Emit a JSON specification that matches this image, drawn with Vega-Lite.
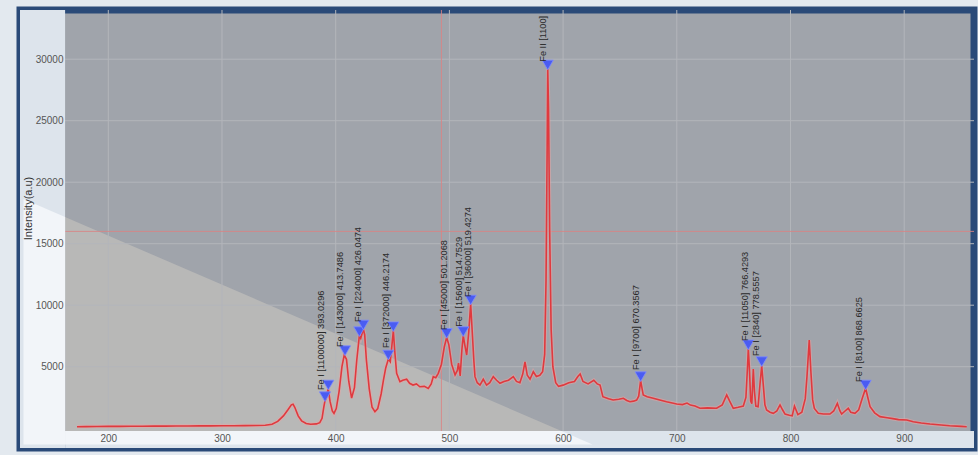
{
  "$schema": "https://vega.github.io/schema/vega-lite/v6.json",
  "width": 954,
  "height": 438,
  "autosize": {"type": "none"},
  "padding": {"left": 20, "top": 10, "right": 4, "bottom": 7},
  "background": "#e3e9ef",
  "config": {
    "view": {"stroke": "#2a4a78", "strokeWidth": 7, "fill": "#a0a4ab"}
  },
  "datasets": {
    "spec": [
      {"wl": 172.5, "v": 120}, {"wl": 180, "v": 130}, {"wl": 190, "v": 140}, {"wl": 200, "v": 150},
      {"wl": 210, "v": 150}, {"wl": 220, "v": 160}, {"wl": 230, "v": 160}, {"wl": 240, "v": 170},
      {"wl": 250, "v": 170}, {"wl": 260, "v": 180}, {"wl": 270, "v": 180}, {"wl": 280, "v": 190},
      {"wl": 290, "v": 190}, {"wl": 300, "v": 200}, {"wl": 310, "v": 200}, {"wl": 320, "v": 210},
      {"wl": 330, "v": 220}, {"wl": 338, "v": 240}, {"wl": 344, "v": 320}, {"wl": 349, "v": 550},
      {"wl": 354, "v": 1000}, {"wl": 358, "v": 1500}, {"wl": 361, "v": 1900}, {"wl": 362.5, "v": 1950},
      {"wl": 364, "v": 1700}, {"wl": 367, "v": 1000}, {"wl": 370, "v": 600}, {"wl": 374, "v": 380},
      {"wl": 378, "v": 320}, {"wl": 383, "v": 350}, {"wl": 386, "v": 450}, {"wl": 388, "v": 800},
      {"wl": 389.5, "v": 1700}, {"wl": 390.5, "v": 2200}, {"wl": 391.5, "v": 2400}, {"wl": 392.5, "v": 2900},
      {"wl": 393.5, "v": 3180}, {"wl": 395, "v": 2200}, {"wl": 397, "v": 1400}, {"wl": 398.5, "v": 1200},
      {"wl": 400.5, "v": 1600}, {"wl": 403, "v": 3000}, {"wl": 405.5, "v": 5000}, {"wl": 407.5, "v": 5950},
      {"wl": 409.5, "v": 5600}, {"wl": 411.5, "v": 3800}, {"wl": 414, "v": 2450}, {"wl": 416.5, "v": 3300},
      {"wl": 418.5, "v": 5500}, {"wl": 420.8, "v": 7520}, {"wl": 422, "v": 7300}, {"wl": 424.3, "v": 8060},
      {"wl": 425.5, "v": 7600}, {"wl": 427, "v": 5540}, {"wl": 429.5, "v": 3200}, {"wl": 432, "v": 1700},
      {"wl": 434.5, "v": 1340}, {"wl": 437, "v": 1600}, {"wl": 440, "v": 2800}, {"wl": 442, "v": 3900},
      {"wl": 444, "v": 4900}, {"wl": 446.3, "v": 5620}, {"wl": 448, "v": 5400}, {"wl": 450.7, "v": 7920},
      {"wl": 452, "v": 6200}, {"wl": 453.6, "v": 4460}, {"wl": 456.5, "v": 3780}, {"wl": 459, "v": 3900},
      {"wl": 462.4, "v": 3980}, {"wl": 465, "v": 3650}, {"wl": 468, "v": 3510}, {"wl": 471, "v": 3600},
      {"wl": 474, "v": 3370}, {"wl": 478, "v": 3400}, {"wl": 481.4, "v": 3240}, {"wl": 484, "v": 3600},
      {"wl": 485.8, "v": 4190}, {"wl": 488, "v": 4100}, {"wl": 490.2, "v": 4460}, {"wl": 493, "v": 5200},
      {"wl": 495.5, "v": 6600}, {"wl": 497.6, "v": 7380}, {"wl": 499.5, "v": 6800}, {"wl": 502, "v": 5200},
      {"wl": 505, "v": 4330}, {"wl": 507, "v": 4700}, {"wl": 508, "v": 5300}, {"wl": 509.5, "v": 4250},
      {"wl": 511, "v": 6400}, {"wl": 512.2, "v": 7520}, {"wl": 513.5, "v": 6800}, {"wl": 515.2, "v": 5950},
      {"wl": 517, "v": 7800}, {"wl": 518.7, "v": 10090}, {"wl": 520, "v": 8000}, {"wl": 521.5, "v": 5500},
      {"wl": 522.5, "v": 4190}, {"wl": 524.5, "v": 3700}, {"wl": 526.9, "v": 3510}, {"wl": 529.8, "v": 3980},
      {"wl": 532.7, "v": 3500}, {"wl": 535.5, "v": 3700}, {"wl": 538.6, "v": 4190}, {"wl": 541.5, "v": 3900},
      {"wl": 544.5, "v": 3650}, {"wl": 548, "v": 3800}, {"wl": 552, "v": 3900}, {"wl": 556.2, "v": 4190},
      {"wl": 559, "v": 3800}, {"wl": 562, "v": 3700}, {"wl": 564.5, "v": 4400}, {"wl": 566.5, "v": 5400},
      {"wl": 568.5, "v": 4300}, {"wl": 570.9, "v": 3980}, {"wl": 573.8, "v": 4590}, {"wl": 576.5, "v": 4200},
      {"wl": 579.5, "v": 4300}, {"wl": 582, "v": 4600}, {"wl": 583.8, "v": 6000}, {"wl": 585, "v": 12000},
      {"wl": 586, "v": 23000}, {"wl": 586.5, "v": 29200}, {"wl": 587.2, "v": 26000}, {"wl": 588.2, "v": 16000},
      {"wl": 589.5, "v": 8000}, {"wl": 591, "v": 5000}, {"wl": 593.5, "v": 3700}, {"wl": 596, "v": 3400},
      {"wl": 600, "v": 3500}, {"wl": 605, "v": 3700}, {"wl": 610, "v": 3800}, {"wl": 613, "v": 4200},
      {"wl": 615, "v": 4400}, {"wl": 617.5, "v": 3800}, {"wl": 622, "v": 3600}, {"wl": 627, "v": 3900},
      {"wl": 630, "v": 3600}, {"wl": 632.5, "v": 3510}, {"wl": 635, "v": 2560}, {"wl": 640, "v": 2400},
      {"wl": 644, "v": 2290}, {"wl": 649, "v": 2350}, {"wl": 653, "v": 2430}, {"wl": 656, "v": 2250},
      {"wl": 658.8, "v": 2150}, {"wl": 662, "v": 2200}, {"wl": 664.7, "v": 2290}, {"wl": 666.5, "v": 2600},
      {"wl": 668.2, "v": 3860}, {"wl": 669.5, "v": 3200}, {"wl": 670.5, "v": 2700}, {"wl": 674, "v": 2550},
      {"wl": 679.3, "v": 2430}, {"wl": 685, "v": 2300}, {"wl": 691, "v": 2150}, {"wl": 696, "v": 2050},
      {"wl": 699.9, "v": 1970}, {"wl": 705, "v": 1920}, {"wl": 709, "v": 2040}, {"wl": 712, "v": 1880},
      {"wl": 716, "v": 1800}, {"wl": 720.4, "v": 1620}, {"wl": 727, "v": 1650}, {"wl": 735, "v": 1620},
      {"wl": 740, "v": 1900}, {"wl": 743.9, "v": 2700}, {"wl": 746.5, "v": 2200}, {"wl": 749.7, "v": 1620},
      {"wl": 754, "v": 1700}, {"wl": 758.5, "v": 1800}, {"wl": 760.8, "v": 2500}, {"wl": 762.2, "v": 5000},
      {"wl": 762.9, "v": 6440}, {"wl": 763.8, "v": 5000}, {"wl": 765, "v": 2200}, {"wl": 766, "v": 2000},
      {"wl": 767.3, "v": 4800}, {"wl": 768.3, "v": 3000}, {"wl": 769.5, "v": 1800}, {"wl": 771.5, "v": 1750},
      {"wl": 773.2, "v": 3600}, {"wl": 774.7, "v": 5080}, {"wl": 776, "v": 3600}, {"wl": 777.5, "v": 1900},
      {"wl": 779, "v": 1480}, {"wl": 782, "v": 1300}, {"wl": 784.9, "v": 1210}, {"wl": 788, "v": 1400},
      {"wl": 790.8, "v": 1890}, {"wl": 793, "v": 1500}, {"wl": 795.2, "v": 1150}, {"wl": 799, "v": 1050},
      {"wl": 801.5, "v": 1000}, {"wl": 803.5, "v": 1800}, {"wl": 806.5, "v": 1100}, {"wl": 810, "v": 1300},
      {"wl": 813, "v": 2400}, {"wl": 814.5, "v": 4200}, {"wl": 816.5, "v": 7170}, {"wl": 818, "v": 4500},
      {"wl": 819.5, "v": 2300}, {"wl": 821, "v": 1600}, {"wl": 824.4, "v": 1210}, {"wl": 829, "v": 1150},
      {"wl": 834.7, "v": 1150}, {"wl": 838, "v": 1400}, {"wl": 841.2, "v": 2020}, {"wl": 843.5, "v": 1400},
      {"wl": 845, "v": 1150}, {"wl": 848, "v": 1400}, {"wl": 850.8, "v": 1620}, {"wl": 853, "v": 1300},
      {"wl": 856.7, "v": 1210}, {"wl": 860, "v": 1500}, {"wl": 863, "v": 2400}, {"wl": 866.1, "v": 3250},
      {"wl": 868, "v": 2500}, {"wl": 870, "v": 1750}, {"wl": 874, "v": 1250}, {"wl": 878.7, "v": 940},
      {"wl": 885, "v": 850}, {"wl": 890, "v": 780}, {"wl": 895, "v": 700}, {"wl": 902.2, "v": 670},
      {"wl": 908, "v": 520}, {"wl": 915, "v": 420}, {"wl": 922.7, "v": 340}, {"wl": 930, "v": 280},
      {"wl": 940, "v": 200}, {"wl": 950, "v": 150}, {"wl": 955, "v": 120}
    ],
    "markers": [
      {"wl": 390.6, "v": 2560}, {"wl": 393.5, "v": 3510}, {"wl": 408.2, "v": 6300},
      {"wl": 420.8, "v": 7850}, {"wl": 424.3, "v": 8390}, {"wl": 446.3, "v": 5950},
      {"wl": 450.7, "v": 8250}, {"wl": 497.6, "v": 7710}, {"wl": 512.2, "v": 7850},
      {"wl": 518.7, "v": 10420}, {"wl": 586.5, "v": 29530}, {"wl": 668.2, "v": 4190},
      {"wl": 762.9, "v": 6770}, {"wl": 774.7, "v": 5410}, {"wl": 866.1, "v": 3510}
    ],
    "labels": [
      {"wl": 387.5, "v": 3100, "label": "Fe I [1100000] 393.0296"},
      {"wl": 404.2, "v": 6600, "label": "Fe I [143000] 413.7486"},
      {"wl": 419.2, "v": 8630, "label": "Fe I [224000] 426.0474"},
      {"wl": 444.2, "v": 6520, "label": "Fe I [372000] 446.2174"},
      {"wl": 495.3, "v": 7980, "label": "Fe I [45000] 501.2068"},
      {"wl": 508.4, "v": 8240, "label": "Fe I [15600] 514.7529"},
      {"wl": 516.0, "v": 10670, "label": "Fe I [36000] 519.4274"},
      {"wl": 582.3, "v": 29800, "label": "Fe II [1100]"},
      {"wl": 664.1, "v": 4730, "label": "Fe I [9700] 670.3567"},
      {"wl": 760.4, "v": 7090, "label": "Fe I [11050] 766.4293"},
      {"wl": 769.6, "v": 5870, "label": "Fe I [2840] 778.5557"},
      {"wl": 860.2, "v": 3760, "label": "Fe I [8100] 868.6625"}
    ],
    "strips": [
      {"wl": 122.34, "wl2": 162, "v": -1610, "v2": 34000},
      {"wl": 162, "wl2": 961.4, "v": -1610, "v2": -230}
    ],
    "glare": [
      {"part": "left", "wl": 125.4, "v": 18626, "v2": -1325},
      {"part": "left", "wl": 162, "v": 17171, "v2": -1325},
      {"part": "bottom", "wl": 162, "v": -230, "v2": -1325},
      {"part": "bottom", "wl": 598.6, "v": -230, "v2": -1325},
      {"part": "bottom", "wl": 625.9, "v": -1325, "v2": -1325}
    ],
    "lighttri": [{"wl": 162, "v": 17171, "v2": -230}, {"wl": 598.6, "v": -230, "v2": -230}],
    "xticks": [{"wl": 200}, {"wl": 300}, {"wl": 400}, {"wl": 500}, {"wl": 600}, {"wl": 700}, {"wl": 800}, {"wl": 900}],
    "yticks": [{"v": 5000}, {"v": 10000}, {"v": 15000}, {"v": 20000}, {"v": 25000}, {"v": 30000}],
    "crossx": [{"wl": 493}],
    "crossy": [{"v": 16000}]
  },
  "layer": [
    {
      "data": {"name": "lighttri"},
      "mark": {"type": "area", "color": "#d0ccc3", "opacity": 0.5},
      "encoding": {
        "x": {"field": "wl", "type": "quantitative", "scale": {"domain": [122.34, 961.4], "nice": false, "zero": false}},
        "y": {"field": "v", "type": "quantitative", "scale": {"domain": [-1610, 34000], "nice": false, "zero": false}},
        "y2": {"field": "v2"}
      }
    },
    {
      "data": {"name": "xticks"},
      "mark": {"type": "rule", "color": "#b3b6bb", "strokeWidth": 1},
      "encoding": {
        "x": {"field": "wl", "type": "quantitative", "scale": {"domain": [122.34, 961.4], "nice": false, "zero": false}}
      }
    },
    {
      "data": {"name": "yticks"},
      "mark": {"type": "rule", "color": "#b3b6bb", "strokeWidth": 1},
      "encoding": {
        "y": {"field": "v", "type": "quantitative", "scale": {"domain": [-1610, 34000], "nice": false, "zero": false}}
      }
    },
    {
      "data": {"name": "crossx"},
      "mark": {"type": "rule", "color": "#d98484", "strokeWidth": 1, "opacity": 0.85},
      "encoding": {
        "x": {"field": "wl", "type": "quantitative", "scale": {"domain": [122.34, 961.4], "nice": false, "zero": false}}
      }
    },
    {
      "data": {"name": "crossy"},
      "mark": {"type": "rule", "color": "#d98484", "strokeWidth": 1, "opacity": 0.85},
      "encoding": {
        "y": {"field": "v", "type": "quantitative", "scale": {"domain": [-1610, 34000], "nice": false, "zero": false}}
      }
    },
    {
      "data": {"name": "strips"},
      "mark": {"type": "rect", "color": "#dde4ec", "opacity": 1},
      "encoding": {
        "x": {"field": "wl", "type": "quantitative", "scale": {"domain": [122.34, 961.4], "nice": false, "zero": false}},
        "x2": {"field": "wl2"},
        "y": {"field": "v", "type": "quantitative", "scale": {"domain": [-1610, 34000], "nice": false, "zero": false}},
        "y2": {"field": "v2"}
      }
    },
    {
      "data": {"name": "glare"},
      "mark": {"type": "area", "color": "#f2f5f9", "opacity": 1},
      "encoding": {
        "x": {"field": "wl", "type": "quantitative", "scale": {"domain": [122.34, 961.4], "nice": false, "zero": false}},
        "y": {"field": "v", "type": "quantitative", "scale": {"domain": [-1610, 34000], "nice": false, "zero": false}},
        "y2": {"field": "v2"},
        "detail": {"field": "part"}
      }
    },
    {
      "data": {"name": "spec"},
      "mark": {"type": "line", "color": "#eaa3a3", "strokeWidth": 3.8, "opacity": 0.5},
      "encoding": {
        "x": {"field": "wl", "type": "quantitative", "scale": {"domain": [122.34, 961.4], "nice": false, "zero": false}},
        "y": {"field": "v", "type": "quantitative", "scale": {"domain": [-1610, 34000], "nice": false, "zero": false}}
      }
    },
    {
      "data": {"name": "spec"},
      "mark": {"type": "line", "color": "#e0393e", "strokeWidth": 1.6},
      "encoding": {
        "x": {
          "field": "wl", "type": "quantitative",
          "scale": {"domain": [122.34, 961.4], "nice": false, "zero": false},
          "axis": {
            "values": [200, 300, 400, 500, 600, 700, 800, 900],
            "offset": -17, "domain": false, "ticks": false, "tickSize": 0, "grid": false,
            "labelFont": "Liberation Sans", "labelFontSize": 10, "labelColor": "#555555",
            "labelPadding": 2, "labelFlush": false, "title": null, "zindex": 1
          }
        },
        "y": {
          "field": "v", "type": "quantitative",
          "scale": {"domain": [-1610, 34000], "nice": false, "zero": false},
          "axis": {
            "values": [5000, 10000, 15000, 20000, 25000, 30000], "format": "d",
            "offset": -45, "domain": false, "ticks": false, "tickSize": 0, "grid": false,
            "labelFont": "Liberation Sans", "labelFontSize": 10, "labelColor": "#555555",
            "labelPadding": 2, "title": "Intensity(a.u)", "titleFont": "Liberation Sans",
            "titleFontSize": 11, "titleFontWeight": "normal", "titleColor": "#333333",
            "titlePadding": 2, "titleY": 198, "zindex": 1
          }
        }
      }
    },
    {
      "data": {"name": "markers"},
      "mark": {"type": "point", "shape": "triangle-down", "filled": true, "size": 125, "color": "#4a5cf2", "opacity": 1, "stroke": "#7d8aff", "strokeWidth": 0.8},
      "encoding": {
        "x": {"field": "wl", "type": "quantitative", "scale": {"domain": [122.34, 961.4], "nice": false, "zero": false}},
        "y": {"field": "v", "type": "quantitative", "scale": {"domain": [-1610, 34000], "nice": false, "zero": false}}
      }
    },
    {
      "data": {"name": "labels"},
      "mark": {"type": "text", "angle": 270, "align": "left", "baseline": "middle", "font": "Liberation Sans", "fontSize": 9.2, "color": "#2a2a2a"},
      "encoding": {
        "x": {"field": "wl", "type": "quantitative", "scale": {"domain": [122.34, 961.4], "nice": false, "zero": false}},
        "y": {"field": "v", "type": "quantitative", "scale": {"domain": [-1610, 34000], "nice": false, "zero": false}},
        "text": {"field": "label"}
      }
    }
  ]
}
